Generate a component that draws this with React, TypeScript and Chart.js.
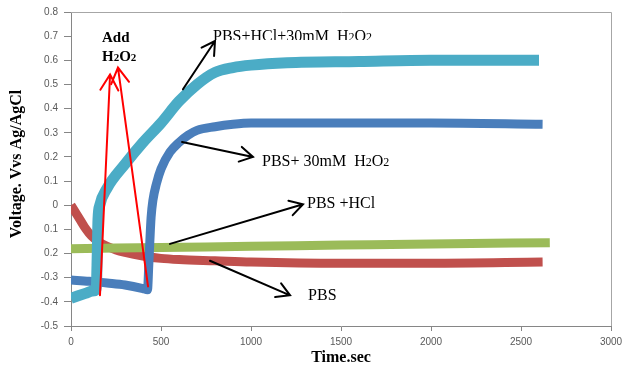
import React, { useEffect, useRef } from "react";
import { Chart, registerables } from "chart.js";

Chart.register(...registerables);

// ---- data ----
const cyanX = [0, 40, 80, 120, 140, 146, 150, 160, 200, 300, 400, 500, 600, 700, 800, 900, 1000, 1200, 1600, 2000, 2600];
const cyanY = [-0.385, -0.375, -0.365, -0.355, -0.35, -0.2, -0.06, 0.0, 0.07, 0.17, 0.26, 0.34, 0.43, 0.5, 0.55, 0.57, 0.58, 0.59, 0.595, 0.6, 0.6];

const blueX = [0, 100, 200, 300, 400, 425, 432, 438, 445, 455, 475, 500, 550, 600, 650, 700, 800, 900, 1000, 1200, 1500, 2000, 2620];
const blueY = [-0.31, -0.315, -0.322, -0.33, -0.345, -0.35, -0.25, -0.15, -0.05, 0.02, 0.09, 0.15, 0.22, 0.26, 0.29, 0.31, 0.325, 0.335, 0.34, 0.34, 0.34, 0.34, 0.335];

const greenX = [0, 500, 1000, 1500, 2000, 2660];
const greenY = [-0.18, -0.175, -0.17, -0.165, -0.16, -0.155];

const redX = [0, 25, 50, 75, 100, 125, 150, 200, 250, 300, 400, 500, 600, 800, 1000, 1500, 2000, 2620];
const redY = [0.0, -0.03, -0.06, -0.09, -0.115, -0.135, -0.15, -0.17, -0.185, -0.195, -0.21, -0.22, -0.225, -0.23, -0.235, -0.24, -0.24, -0.235];

const xTicks = [0, 500, 1000, 1500, 2000, 2500, 3000];
const yTickLabels = ["-0.5", "-0.4", "-0.3", "0.2", "0.1", "0", "0.1", "0.2", "0.3", "0.4", "0.5", "0.6", "0.7", "0.8"];

const seriesNames = ["PBS+HCl+30mM  H2O2", "PBS+ 30mM  H2O2", "PBS +HCl", "PBS"];

// ---- annotations (data coordinates) ----
const blackArrows = [
  [622, 0.48, 800, 0.68],
  [617, 0.262, 1011, 0.2],
  [550, -0.16, 1289, 0.004],
  [772, -0.23, 1217, -0.373],
];
const redArrows = [
  [161, -0.373, 217, 0.541],
  [428, -0.336, 261, 0.57],
];

const toPts = (xs: number[], ys: number[]) => xs.map((x, i) => ({ x, y: ys[i] }));

const drawArrow = (ctx: CanvasRenderingContext2D, x1: number, y1: number, x2: number, y2: number, color: string, head: number) => {
  ctx.save();
  ctx.strokeStyle = color;
  ctx.lineWidth = 2;
  ctx.lineCap = "round";
  ctx.beginPath();
  ctx.moveTo(x1, y1);
  ctx.lineTo(x2, y2);
  const ang = Math.atan2(y1 - y2, x1 - x2);
  const spread = Math.PI / 6;
  ctx.moveTo(x2 + head * Math.cos(ang + spread), y2 + head * Math.sin(ang + spread));
  ctx.lineTo(x2, y2);
  ctx.lineTo(x2 + head * Math.cos(ang - spread), y2 + head * Math.sin(ang - spread));
  ctx.stroke();
  ctx.restore();
};

// draw text with "2" as subscripts
const drawRich = (ctx: CanvasRenderingContext2D, text: string, x: number, y: number, size: number, bold: boolean) => {
  let cx = x;
  const big = `${bold ? "bold " : ""}${size}px "Liberation Serif", "Times New Roman", serif`;
  const small = `${bold ? "bold " : ""}${Math.round(size * 0.75)}px "Liberation Serif", "Times New Roman", serif`;
  const parts = text.split(/(H2O2)/);
  for (const p of parts) {
    if (p === "H2O2") {
      const segs: [string, boolean][] = [["H", false], ["2", true], ["O", false], ["2", true]];
      for (const [s, sub] of segs) {
        ctx.font = sub ? small : big;
        ctx.fillText(s, cx, y + (sub ? 1 : 0));
        cx += ctx.measureText(s).width;
      }
    } else {
      ctx.font = big;
      ctx.fillText(p, cx, y);
      cx += ctx.measureText(p).width;
    }
  }
};

const annotationPlugin = {
  id: "annot",
  afterDatasetsDraw(chart: any) {
    const ctx: CanvasRenderingContext2D = chart.ctx;
    const xs = chart.scales.x;
    const ys = chart.scales.y;
    const px = (v: number) => xs.getPixelForValue(v);
    const py = (v: number) => ys.getPixelForValue(v);
    const area = chart.chartArea;

    // plot frame (top/right)
    ctx.save();
    ctx.strokeStyle = "#a6a6a6";
    ctx.lineWidth = 1;
    ctx.beginPath();
    ctx.moveTo(area.left, area.top + 0.5);
    ctx.lineTo(area.right + 0.5, area.top + 0.5);
    ctx.lineTo(area.right + 0.5, area.bottom);
    ctx.stroke();
    ctx.restore();

    for (const a of redArrows) drawArrow(ctx, px(a[0]), py(a[1]), px(a[2]), py(a[3]), "#ff0000", 18);
    for (const a of blackArrows) drawArrow(ctx, px(a[0]), py(a[1]), px(a[2]), py(a[3]), "#000000", 15);

    ctx.save();
    ctx.fillStyle = "#000";
    ctx.textBaseline = "middle";
    ctx.textAlign = "left";
    drawRich(ctx, "Add", px(172), py(0.693), 15, true);
    drawRich(ctx, "H2O2", px(172), py(0.615), 15, true);

    // top label, bottom slightly clipped as in the source
    ctx.save();
    ctx.beginPath();
    ctx.rect(0, 0, chart.width, py(0.697) + 3);
    ctx.clip();
    drawRich(ctx, seriesNames[0], px(789), py(0.697), 16, false);
    ctx.restore();

    drawRich(ctx, seriesNames[1], px(1061), py(0.18), 16, false);
    drawRich(ctx, seriesNames[2], px(1311), py(0.004), 16, false);
    drawRich(ctx, seriesNames[3], px(1317), py(-0.377), 16, false);

    // axis titles
    ctx.textAlign = "center";
    ctx.font = 'bold 16px "Liberation Serif", "Times New Roman", serif';
    ctx.fillText("Time.sec", (area.left + area.right) / 2, 358);
    ctx.translate(17, 164);
    ctx.rotate(-Math.PI / 2);
    ctx.fillText("Voltage. Vvs Ag/AgCl", 0, 0);
    ctx.restore();
  },
};

export default function App() {
  const ref = useRef<HTMLCanvasElement>(null);
  useEffect(() => {
    document.body.style.margin = "0";
    if (!ref.current) return;
    const tickFont = { family: '"Liberation Sans", Arial, sans-serif', size: 10 };
    const chart = new Chart(ref.current, {
      type: "scatter",
      data: {
        datasets: [
          { label: seriesNames[0], data: toPts(cyanX, cyanY), borderColor: "#4bacc6", borderWidth: 11 },
          { label: seriesNames[1], data: toPts(blueX, blueY), borderColor: "#4a7ebb", borderWidth: 9 },
          { label: seriesNames[2], data: toPts(greenX, greenY), borderColor: "#9bbb59", borderWidth: 9 },
          { label: seriesNames[3], data: toPts(redX, redY), borderColor: "#c0504d", borderWidth: 9 },
        ].map((d) => ({
          ...d,
          showLine: true,
          pointRadius: 0,
          pointHoverRadius: 0,
          cubicInterpolationMode: "monotone" as const,
          borderCapStyle: "butt" as const,
          borderJoinStyle: "round" as const,
          fill: false,
        })),
      },
      options: {
        responsive: false,
        animation: false,
        layout: { padding: { top: 9, right: 17, left: 0, bottom: 0 } },
        plugins: { legend: { display: false }, tooltip: { enabled: false } },
        scales: {
          x: {
            type: "linear",
            min: 0,
            max: 3000,
            afterBuildTicks: (s: any) => {
              s.ticks = xTicks.map((v) => ({ value: v }));
            },
            ticks: {
              color: "#595959",
              font: tickFont,
              padding: 5,
              maxRotation: 0,
              callback: (v: any) => String(v),
            },
            grid: { drawOnChartArea: false, tickLength: 5, color: "#868686" },
            border: { color: "#868686" },
            afterFit: (s: any) => {
              s.height = 44;
            },
          },
          y: {
            type: "linear",
            min: -0.5,
            max: 0.8,
            afterBuildTicks: (s: any) => {
              s.ticks = yTickLabels.map((_, i) => ({ value: Math.round((-0.5 + i * 0.1) * 10) / 10 }));
            },
            ticks: {
              color: "#595959",
              font: tickFont,
              padding: 6,
              callback: (_v: any, i: number) => yTickLabels[i],
            },
            grid: { drawOnChartArea: false, tickLength: 7, color: "#868686" },
            border: { color: "#868686" },
            afterFit: (s: any) => {
              s.width = 71;
            },
          },
        },
      },
      plugins: [annotationPlugin],
    });
    return () => chart.destroy();
  }, []);
  return (
    <div style={{ position: "absolute", left: 0, top: 0, width: 628, height: 370, background: "#fff" }}>
      <canvas ref={ref} width={628} height={370} style={{ display: "block" }} />
    </div>
  );
}
